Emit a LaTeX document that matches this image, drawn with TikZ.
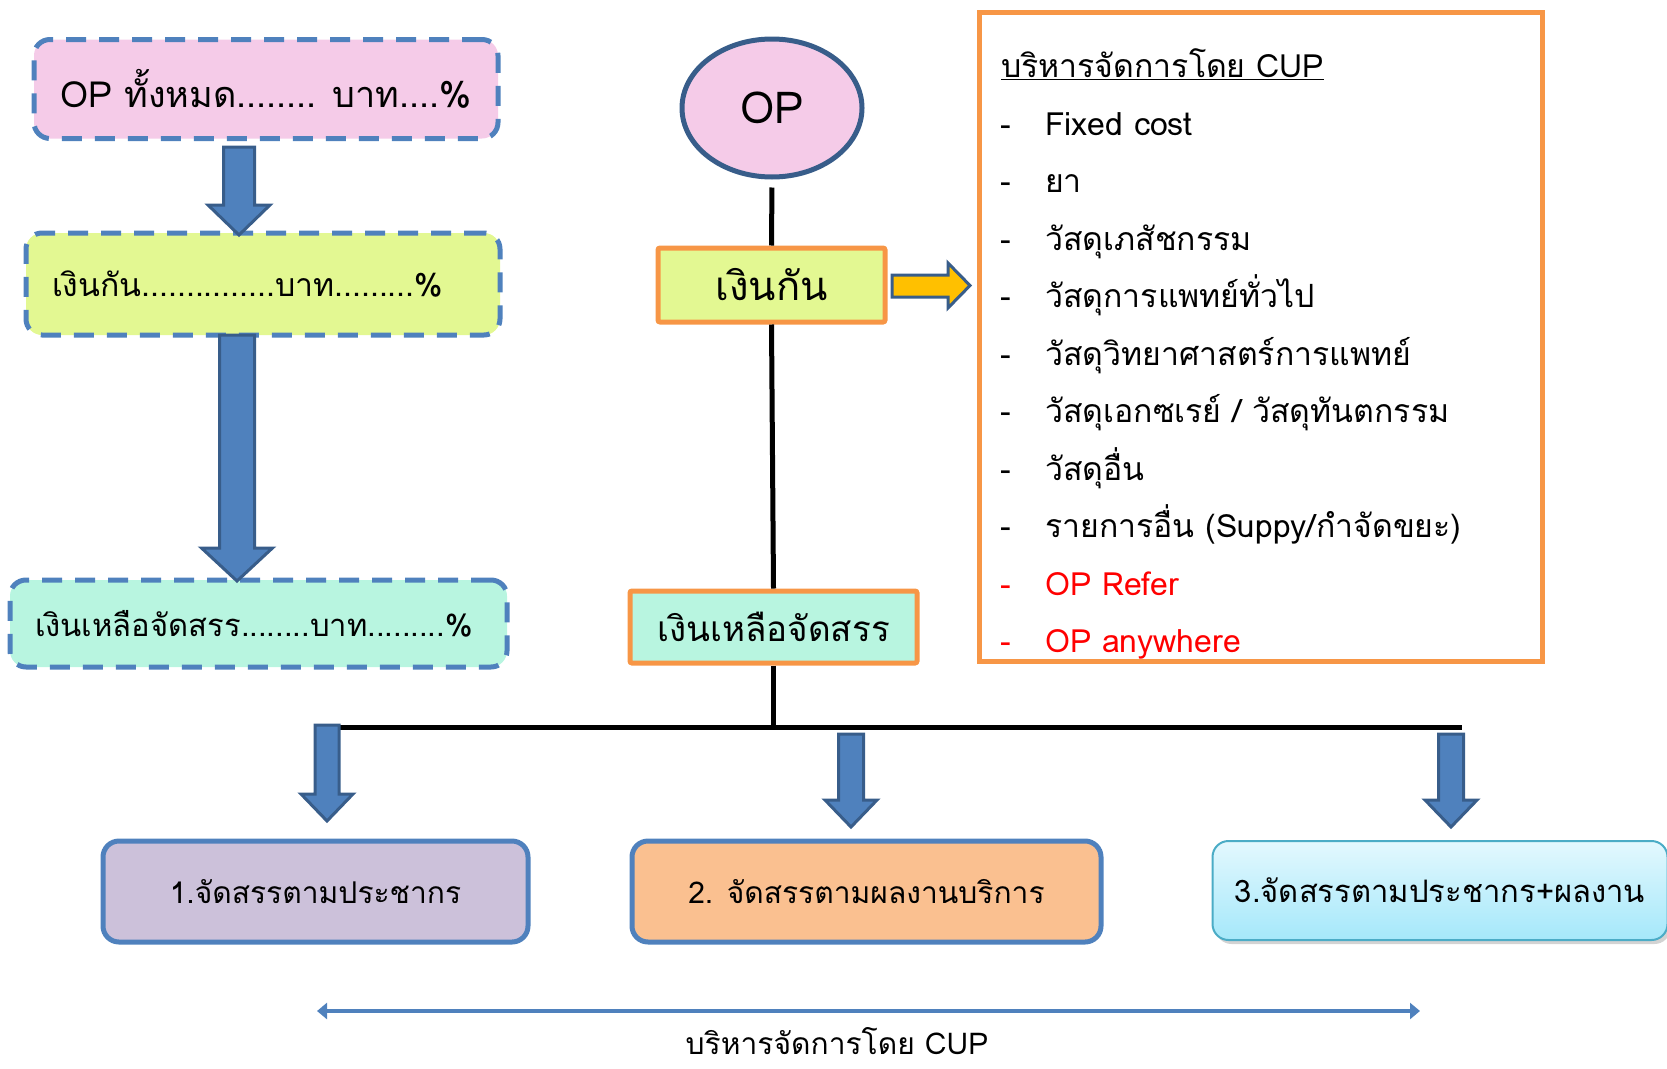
\documentclass[tikz,border=0pt]{standalone}
\usepackage{fontspec}
\setmainfont{Loma}[Script=Thai]
\usetikzlibrary{shapes.geometric, arrows.meta, shadows}

\definecolor{dashblue}{HTML}{4F81BD}
\definecolor{edgeblue}{HTML}{385D8A}
\definecolor{pinkfill}{HTML}{F5CBE8}
\definecolor{limefill}{HTML}{E3F892}
\definecolor{mintfill}{HTML}{B8F5E0}
\definecolor{orangeline}{HTML}{F79646}
\definecolor{goldfill}{HTML}{FFC000}
\definecolor{lilacfill}{HTML}{CCC1DA}
\definecolor{peachfill}{HTML}{FAC090}
\definecolor{cyantop}{HTML}{E3F8FE}
\definecolor{cyanbot}{HTML}{A5E8FA}
\definecolor{cyanline}{HTML}{4BACC6}
\definecolor{listred}{HTML}{FF0000}

% x, top, tip, half shaft, half head, head length
\newcommand{\arrowdown}[6]{%
  \filldraw[blockarrow] ({#1-#4},#2) -- ({#1+#4},#2) -- ({#1+#4},{#3-#6}) -- ({#1+#5},{#3-#6})
    -- (#1,#3) -- ({#1-#5},{#3-#6}) -- ({#1-#4},{#3-#6}) -- cycle;}

\begin{document}
\begin{tikzpicture}
        [x=1pt, y=-1pt,
         dashbox/.style={draw=dashblue, line width=5pt, dash pattern=on 20pt off 13pt, rounded corners=16pt, inner sep=0pt},
         orangebox/.style={draw=orangeline, line width=5pt, rounded corners=2pt, inner sep=0pt},
         planbox/.style={draw=dashblue, line width=5pt, rounded corners=16pt, inner sep=0pt},
         blockarrow/.style={draw=edgeblue, fill=dashblue, line width=3pt},
         wire/.style={black, line width=5pt},
         listitem/.style={anchor=west, inner sep=0pt, text height=22pt, text depth=8pt, font=\fontsize{32}{38}\selectfont}]

        \useasboundingbox (0,0) rectangle (1667,1068);

        % left column
        \node[dashbox, fill=pinkfill, minimum width=464pt, minimum height=99pt, font=\fontsize{36}{42}\selectfont] (opall) at (266,89) {OP ทั้งหมด........ บาท....\%};
        \node[dashbox, fill=limefill, minimum width=474pt, minimum height=102pt, text width=422pt, align=left, font=\fontsize{32}{38}\selectfont] (reserve) at (263,284) {เงินกัน...............บาท.........\%};
        \node[dashbox, fill=mintfill, minimum width=497pt, minimum height=87pt, text width=447pt, align=left, font=\fontsize{31}{37}\selectfont] (rest) at (258.5,623.5) {เงินเหลือจัดสรร........บาท.........\%};

        \arrowdown{239}{147}{235}{15.5}{31}{30}
        \arrowdown{237}{335}{581}{17.5}{35.5}{33}

        % middle column
        \node[ellipse, draw=edgeblue, line width=5pt, fill=pinkfill, minimum width=180pt, minimum height=138pt, font=\fontsize{44}{50}\selectfont] (op) at (772,108) {OP};
        \node[orangebox, fill=limefill, minimum width=227pt, minimum height=74pt, font=\fontsize{40}{46}\selectfont] (keep) at (771.5,285) {เงินกัน};
        \node[orangebox, fill=mintfill, minimum width=287pt, minimum height=72pt, font=\fontsize{35}{41}\selectfont] (remain) at (773.5,627) {เงินเหลือจัดสรร};

        \draw[wire, shorten <=8pt] (op.south) -- (keep.north);
        \draw[wire] (keep.south) -- (remain.north);

        \filldraw[blockarrow, fill=goldfill] (892,275) -- (948,275) -- (948,263) -- (970,285.5)
          -- (948,308) -- (948,297) -- (892,297) -- cycle;

        % list managed by CUP
        \node[orangebox, rounded corners=0pt, minimum width=563pt, minimum height=649pt] (cup) at (1260.5,336.5) {};
        \node[anchor=west, inner sep=0pt, font=\fontsize{32}{38}\selectfont] (cuptitle) at (1001,64) {\underline{บริหารจัดการโดย CUP}};
        \foreach \txt [count=\i] in {Fixed cost, ยา, วัสดุเภสัชกรรม, วัสดุการแพทย์ทั่วไป, วัสดุวิทยาศาสตร์การแพทย์,
            วัสดุเอกซเรย์ / วัสดุทันตกรรม, วัสดุอื่น, รายการอื่น (Suppy/กำจัดขยะ)} {
          \node[listitem] (dash\i) at (1000,{128+57.5*(\i-1)}) {-};
          \node[listitem] (item\i) at (1045,{128+57.5*(\i-1)}) {\txt};
        }
        \node[listitem, text=listred] (dash9) at (1000,588) {-};
        \node[listitem, text=listred] (item9) at (1045,588) {OP Refer};
        \node[listitem, text=listred] (dash10) at (1000,645) {-};
        \node[listitem, text=listred] (item10) at (1045,645) {OP anywhere};

        % split into three
        \coordinate (hub) at (773.5,727);
        \coordinate (hubL) at (326,727);
        \coordinate (hubR) at (1462,727);
        \draw[wire] (remain.south) -- (hub);
        \draw[wire] (hubL) -- (hubR);

        \arrowdown{327}{725}{821}{12}{26}{27}
        \arrowdown{851}{734}{827}{12.5}{26}{27}
        \arrowdown{1451}{734}{827}{12.5}{26}{27}

        \node[planbox, fill=lilacfill, minimum width=425pt, minimum height=101pt, font=\fontsize{30}{36}\selectfont] (plan1) at (315.5,891.5) {1.จัดสรรตามประชากร};
        \node[planbox, fill=peachfill, minimum width=469pt, minimum height=101pt, font=\fontsize{30}{36}\selectfont] (plan2) at (866.5,891.5) {2. จัดสรรตามผลงานบริการ};
        \node[draw=cyanline, line width=2pt, rounded corners=16pt, top color=cyantop, bottom color=cyanbot, drop shadow={opacity=0.35, shadow xshift=3pt, shadow yshift=-4pt},
              minimum width=455pt, minimum height=99pt, font=\fontsize{31}{37}\selectfont] (plan3) at (1440,890.5) {3.จัดสรรตามประชากร+ผลงาน};

        % span of CUP
        \coordinate (spanL) at (317,1011);
        \coordinate (spanR) at (1420,1011);
        \draw[{Triangle[length=10pt,width=16pt]}-{Triangle[length=10pt,width=16pt]}, dashblue, line width=4pt] (spanL) -- (spanR);
        \node[font=\fontsize{30}{36}\selectfont] (cupnote) at (837,1041) {บริหารจัดการโดย CUP};

      \end{tikzpicture}
\end{document}
